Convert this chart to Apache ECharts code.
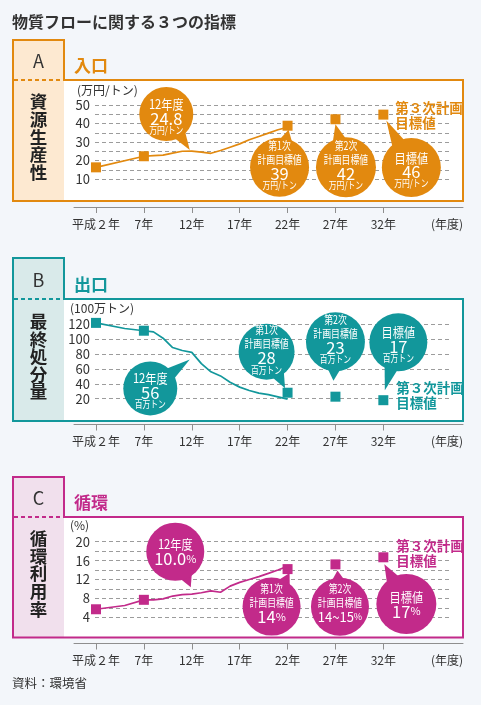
<!DOCTYPE html>
<html lang="ja"><head><meta charset="utf-8">
<script src="https://cdn.jsdelivr.net/npm/echarts@6.0.0/dist/echarts.min.js"></script>
<style>html,body{margin:0;padding:0;background:#f3f6fa}#c{width:481px;height:705px}</style>
</head><body><div id="c"></div>
<script>
// ---------------- data ----------------
const xTickYears = [2, 7, 12, 17, 22, 27, 32];
const xTickLabels = ['平成２年', '7年', '12年', '17年', '22年', '27年', '32年'];
const targetYears = [22, 27, 32];

const yearsA = [2, 7, 8, 9, 10, 11, 12, 13, 14, 15, 16, 17, 18, 19, 20, 21, 22];
const productivityA = [16.3, 22.3, 22.6, 22.9, 24.0, 25.0, 25.1, 24.5, 23.9, 25.4, 27.2, 29.0, 31.2, 33.0, 34.8, 36.6, 38.0];
const targetsA = [38.8, 42.3, 44.8];
const yLabelsA = [10, 20, 30, 40, 50];

const yearsB = [2, 5, 7, 8, 9, 10, 11, 12, 13, 14, 15, 16, 17, 18, 19, 20, 21, 22];
const disposalB = [121.5, 114, 111, 109.5, 101, 88.5, 84.5, 82, 67, 56, 50.5, 42, 35.5, 31, 27.5, 25.5, 22.5, 19.5];
const targetsB = [28, 22.7, 18];
const yLabelsB = [20, 40, 60, 80, 100, 120];

const yearsC = [2, 5, 7, 8, 9, 10, 11, 12, 13, 14, 15, 16, 17, 18, 19, 20, 21, 22];
const cyclicalC = [5.7, 6.5, 7.7, 7.7, 7.9, 8.5, 8.8, 8.9, 9.2, 9.6, 9.3, 10.6, 11.4, 12.0, 12.6, 13.3, 14.0, 14.8];
const targetsC = [14.2, 15.2, 16.7];
const yLabelsC = [4, 8, 12, 16, 20];

const bubblesA = [['12年度', '24.8', '万円/トン'], ['第1次', '計画目標値', '39', '万円/トン'], ['第2次', '計画目標値', '42', '万円/トン'], ['目標値', '46', '万円/トン']];
const bubblesB = [['12年度', '56', '百万トン'], ['第1次', '計画目標値', '28', '百万トン'], ['第2次', '計画目標値', '23', '百万トン'], ['目標値', '17', '百万トン']];
const bubblesC = [['12年度', '10.0%'], ['第1次', '計画目標値', '14%'], ['第2次', '計画目標値', '14~15%'], ['目標値', '17%']];
const noteText = ['第３次計画', '目標値'];

// ---------------- layout ----------------
const FONT = '"Noto Sans CJK JP","Noto Sans",sans-serif';
const X0 = 96, PXY = 9.578;            // pixel of year 2, pixels per year
const toYear = px => 2 + (px - X0) / PXY;
const GRID_L = 95, GRID_R = 450, AX_L = 74, AX_R = 463, BOX_L = 13, COL_R = 64;

const panels = [
  { color: '#e2890f', light: '#fde9d1', tabTop: 40, boxTop: 80, boxBottom: 201, gTop: 105, gBottom: 179, axisY: 207,
    yMin: 10, yMax: 50, yInt: 5, yLabels: yLabelsA, years: yearsA, vals: productivityA, tgt: targetsA,
    letter: 'A', head: '入口', side: '資源生産性', unit: '(万円/トン)', unitPos: [77, 90], bubbles: bubblesA,
    lay: [{ line: 12, tip: [-2, -1], c: [-25.5, -37], r: 27 }, { t: 0, tip: [1, 4], c: [-8, 41.5], r: 29.5 },
          { t: 1, tip: [0, 5], c: [10.5, 48], r: 30 }, { t: 2, tip: [3, 6], c: [28, 53], r: 29.5 }],
    note: [12, 1] },
  { color: '#12979b', light: '#d9eaea', tabTop: 258, boxTop: 299, boxBottom: 421, gTop: 324, gBottom: 398.7, axisY: 424.5,
    yMin: 20, yMax: 120, yInt: 20, yLabels: yLabelsB, years: yearsB, vals: disposalB, tgt: targetsB,
    letter: 'B', head: '出口', side: '最終処分量', unit: '(100万トン)', unitPos: [70, 308], bubbles: bubblesB,
    lay: [{ line: 12, tip: [-2, 7], c: [-41.5, 36], r: 27 }, { t: 0, tip: [-2.5, -4.5], c: [-21, -41], r: 28 },
          { t: 1, tip: [-2, -16], c: [0, -55], r: 29.5 }, { t: 2, tip: [1.5, -10], c: [15, -58], r: 29 }],
    note: [13, -5] },
  { color: '#c22a8a', light: '#f1e0ed', tabTop: 477, boxTop: 517, boxBottom: 637.5, gTop: 541.7, gBottom: 617.3, axisY: 643.5,
    yMin: 4, yMax: 20, yInt: 2, yLabels: yLabelsC, years: yearsC, vals: cyclicalC, tgt: targetsC,
    letter: 'C', head: '循環', side: '循環利用率', unit: '(%)', unitPos: [70, 525], bubbles: bubblesC,
    lay: [{ line: 12, tip: [-1, -7], c: [-16.5, -42.5], r: 29 }, { t: 0, tip: [2, 4], c: [-16, 37.5], r: 29 },
          { t: 1, tip: [2, 6], c: [4.5, 42.3], r: 29 }, { t: 2, tip: [1, 7], c: [23, 46.7], r: 30 }],
    note: [13, -4] }
];

const chart = echarts.init(document.getElementById('c'), null, { width: 481, height: 705 });

const grids = [], xAxes = [], yAxes = [], series = [];
panels.forEach((p, i) => {
  const gi = i * 2;
  grids.push({ left: GRID_L, width: GRID_R - GRID_L, top: p.gTop, height: p.gBottom - p.gTop, containLabel: false, outerBoundsMode: 'none' });
  grids.push({ left: AX_L, width: AX_R - AX_L, top: p.axisY - 6, height: 6, containLabel: false, outerBoundsMode: 'none' });
  xAxes.push({ gridIndex: gi, type: 'value', min: toYear(GRID_L), max: toYear(GRID_R), show: false });
  xAxes.push({ gridIndex: gi + 1, type: 'value', min: toYear(AX_L), max: toYear(AX_R), position: 'bottom',
    axisLine: { show: true, onZero: false, lineStyle: { color: '#8e8e8e', width: 1 } },
    axisTick: { show: true, customValues: xTickYears, length: 6, lineStyle: { color: '#8e8e8e' } },
    axisLabel: { show: true, customValues: xTickYears, formatter: v => xTickLabels[xTickYears.indexOf(v)] || '',
      margin: 11, fontSize: 12, color: '#333', fontFamily: FONT },
    splitLine: { show: false } });
  yAxes.push({ gridIndex: gi, type: 'value', min: p.yMin, max: p.yMax, interval: p.yInt,
    axisLine: { show: false }, axisTick: { show: false },
    axisLabel: { margin: 5, fontSize: 13, color: '#333', fontFamily: FONT, formatter: v => p.yLabels.includes(v) ? String(v) : '' },
    splitLine: { show: true, lineStyle: { color: '#9c9c9c', width: 1, type: [4, 3] } } });
  yAxes.push({ gridIndex: gi + 1, type: 'value', min: 0, max: 1, show: false });
  series.push({ type: 'line', xAxisIndex: gi, yAxisIndex: gi, data: p.years.map((y, k) => [y, p.vals[k]]), clip: false,
    showSymbol: false, lineStyle: { color: p.color, width: 1.7 }, z: 3, silent: true });
  const marks = [[p.years[0], p.vals[0]], [7, p.vals[p.years.indexOf(7)]]].concat(targetYears.map((y, k) => [y, p.tgt[k]]));
  series.push({ type: 'scatter', xAxisIndex: gi, yAxisIndex: gi, data: marks, symbol: 'rect', symbolSize: 10, clip: false,
    itemStyle: { color: p.color, opacity: 1 }, z: 4, silent: true });
});

chart.setOption({ backgroundColor: '#f3f6fa', animation: false, textStyle: { fontFamily: FONT },
  grid: grids, xAxis: xAxes, yAxis: yAxes, series });

// ---------------- decorations & annotations ----------------
function txt(x, y, text, o) {
  return Object.assign({ type: 'text', x, y, z: o.z || 30, scaleX: o.sx || 1, silent: true,
    style: { text, fill: o.fill || '#333', fontSize: o.size || 12, fontFamily: FONT, fontWeight: o.weight || 'normal',
      align: o.align || 'left', textAlign: o.align || 'left', verticalAlign: 'middle', textVerticalAlign: 'middle',
      lineHeight: o.lh, rich: o.rich } });
}
const GAP = { ll: 14, ln: 14.5, nu: 11.5 };
const els = [];
els.push(txt(12, 21.5, '物質フローに関する３つの指標', { size: 16, fill: '#333', weight: 'bold' }));
els.push(txt(12, 683, '資料：環境省', { size: 12.5, fill: '#333' }));

panels.forEach((p, i) => {
  const gi = i * 2;
  // panel frame
  els.push({ type: 'rect', z: -10, silent: true, shape: { x: BOX_L, y: p.tabTop, width: COL_R - BOX_L, height: p.boxBottom - p.tabTop }, style: { fill: p.light } });
  els.push({ type: 'rect', z: -10, silent: true, shape: { x: COL_R, y: p.boxTop, width: AX_R - COL_R, height: p.boxBottom - p.boxTop }, style: { fill: '#fff' } });
  els.push({ type: 'polygon', z: -5, silent: true, shape: { points: [[BOX_L, p.tabTop], [COL_R, p.tabTop], [COL_R, p.boxTop], [AX_R, p.boxTop], [AX_R, p.boxBottom], [BOX_L, p.boxBottom]] },
    style: { fill: null, stroke: p.color, lineWidth: 2 } });
  els.push({ type: 'line', z: -5, silent: true, shape: { x1: BOX_L + 1, y1: p.boxTop, x2: COL_R - 1, y2: p.boxTop }, style: { stroke: p.color, lineWidth: 2, lineDash: [4, 3] } });
  els.push(txt((BOX_L + COL_R) / 2, (p.tabTop + p.boxTop) / 2 + 1.5, p.letter, { size: 18, fill: '#333', align: 'center' }));
  els.push(txt(74, p.boxTop - 14.5, p.head, { size: 17, fill: p.color, weight: 'bold' }));
  els.push(txt((BOX_L + COL_R) / 2, (p.boxTop + p.boxBottom) / 2 - 3.5, p.side.split('').join('\n'), { size: 17.5, fill: '#222', weight: 'bold', align: 'center', lh: 17.6 }));
  els.push(txt(p.unitPos[0], p.unitPos[1], p.unit, { size: 12, fill: '#333' }));
  els.push(txt(463, p.axisY + 17, '(年度)', { size: 12, fill: '#333', align: 'right' }));

  // third-plan note next to the last target marker
  const m = chart.convertToPixel({ gridIndex: gi }, [targetYears[2], p.tgt[2]]);
  els.push(txt(m[0] + p.note[0], m[1] + p.note[1], noteText.join('\n'), { size: 13.5, fill: p.color, lh: 14.5, weight: 'bold' }));

  // speech bubbles
  p.lay.forEach((b, k) => {
    const a = b.line !== undefined
      ? chart.convertToPixel({ gridIndex: gi }, [b.line, p.vals[p.years.indexOf(b.line)]])
      : chart.convertToPixel({ gridIndex: gi }, [targetYears[b.t], p.tgt[b.t]]);
    const T = [a[0] + b.tip[0], a[1] + b.tip[1]];
    const C = [a[0] + b.c[0], a[1] + b.c[1]];
    const th = Math.atan2(T[1] - C[1], T[0] - C[0]);
    const d = 0.28, rr = b.r * 0.9;
    els.push({ type: 'polygon', z: 20, silent: true, shape: { points: [[C[0] + rr * Math.cos(th - d), C[1] + rr * Math.sin(th - d)], T, [C[0] + rr * Math.cos(th + d), C[1] + rr * Math.sin(th + d)]] }, style: { fill: p.color } });
    els.push({ type: 'circle', z: 20, silent: true, shape: { cx: C[0], cy: C[1], r: b.r }, style: { fill: p.color } });
    const lines = p.bubbles[k].map(s => {
      if (/^[0-9.~%]+$/.test(s)) return { s, kind: 'n', size: s.includes('~') ? 13 : 16.5 };
      if (/トン/.test(s)) return { s, kind: 'u', size: 10, sx: 0.78 };
      if (s.includes('年度') || s === '目標値') return { s, kind: 'l', size: 13, sx: 0.86 };
      return { s, kind: 'l', size: 11.5, sx: 0.77 };
    });
    // relative positions of line centres
    const pos = [0];
    for (let j = 1; j < lines.length; j++) {
      const g = lines[j].kind === 'u' ? GAP.nu : (lines[j].kind === 'n' ? GAP.ln : GAP.ll);
      pos.push(pos[j - 1] + g);
    }
    const hasUnit = lines.some(l => l.kind === 'u');
    const shift = hasUnit ? (lines.length === 4 ? -2 : 3) : (lines.length === 3 ? -4 : 0);
    const mid = (pos[0] + pos[pos.length - 1]) / 2;
    lines.forEach((l, j) => {
      const cy = C[1] + pos[j] - mid + shift;
      if (l.kind === 'n') {
        els.push(txt(C[0], cy, l.s.replace('%', '{p|%}'), { size: l.size, fill: '#fff', align: 'center', z: 21,
          rich: { p: { fontSize: Math.round(l.size * 0.68), fill: '#fff', fontFamily: FONT } } }));
      } else {
        els.push(txt(C[0], cy, l.s, { size: l.size, fill: '#fff', align: 'center', z: 21, sx: l.sx }));
      }
    });
  });
});

chart.setOption({ graphic: { elements: els } });
</script>
</body></html>
